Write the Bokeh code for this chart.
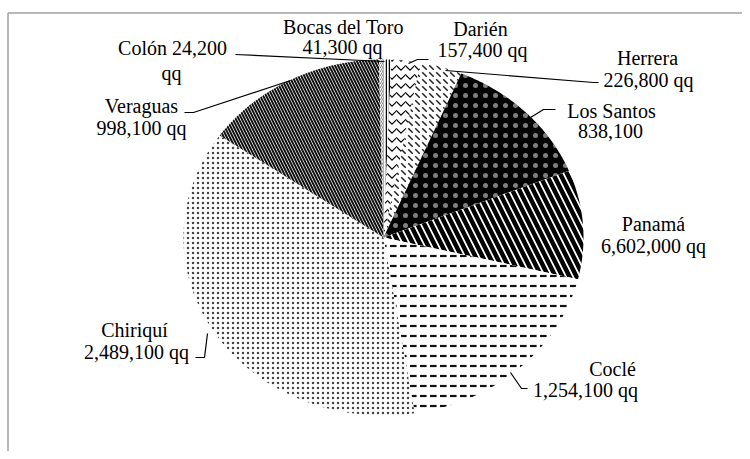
import numpy as np
from bokeh.plotting import figure
from bokeh.models import Range1d
from bokeh.core.properties import value
from bokeh.embed import file_html
from bokeh.resources import INLINE

# ---- data (clockwise from 12 o'clock) ----
regions = ["Bocas del Toro", "Darién", "Herrera", "Los Santos", "Panamá",
           "Coclé", "Chiriquí", "Veraguas", "Colón"]
production_qq = [41300, 157400, 226800, 838100, 660200, 1254100, 2489100, 998100, 24200]
label_line1 = ["Bocas del Toro", "Darién", "Herrera", "Los Santos", "Panamá",
               "Coclé", "Chiriquí", "Veraguas", "Colón 24,200"]
label_line2 = ["41,300 qq", "157,400 qq", "226,800 qq", "838,100", "6,602,000 qq",
               "1,254,100 qq", "2,489,100 qq", "998,100 qq", "qq"]

# ---- styles ----
fill_colors = ["white", "white", "white", "black", "white", "white", "white", "white", "white"]
hatch_patterns = ["vertical_line", "horizontal_wave", "left_diagonal_dash", "dot",
                  "left_diagonal_line", "horizontal_dash", "dot", "left_diagonal_line",
                  "right_diagonal_line"]
hatch_colors = ["black", "black", "#222222", "white", "black", "#111111", "#444444", "#111111", "#888888"]
hatch_alphas = [1, 1, 1, 0.5, 1, 1, 1, 1, 1]
hatch_scales = [3, 9, 7, 10, 14, 10, 5, 6, 4]
hatch_weights = [1.5, 1.2, 1.5, 1.0, 4.5, 2.2, 1.8, 2.0, 1]

# label positions (picture pixels) : line1 centre, line2 centre
lab_pos = [((343, 26), (342, 46)),
           ((480, 28), (482, 49)),
           ((647, 57), (648, 79)),
           ((611, 110), (610, 130)),
           ((653, 223), (653, 245)),
           ((612, 368), (585, 389)),
           ((134, 329), (136, 351)),
           ((141, 105), (141, 127)),
           ((172, 47), (171, 72))]

leaders = [None,
           [(408, 63), (417, 59), (428, 59)],
           [(445, 70), (593, 82), (598, 82)],
           [(530, 117), (543, 109), (555, 109)],
           None,
           [(510, 372), (521, 388), (527, 388)],
           [(207, 333), (204, 357), (195, 357)],
           [(290, 80), (193, 112), (184, 112)],
           [(384, 61), (235, 54)]]

W, H = 742, 451
p = figure(width=W, height=H, output_backend="svg", toolbar_location=None,
           x_range=Range1d(0, W), y_range=Range1d(H, 0),
           x_axis_type=None, y_axis_type=None, min_border=0)
p.outline_line_color = None
p.xgrid.visible = False
p.ygrid.visible = False
p.background_fill_color = "white"
p.border_fill_color = "white"

# chart frame (grey), only top and left edges visible in the crop
p.line([7.5, W], [12.5, 12.5], line_color="#a0a0a0", line_width=1.5)
p.line([7.5, 7.5], [12.5, H], line_color="#a0a0a0", line_width=1.5)

cx, cy, rx, ry = 383, 237, 200, 178
vals = np.array(production_qq, dtype=float)
cum = np.concatenate([[0], np.cumsum(vals)]) / vals.sum()
for i in range(len(vals)):
    t0, t1 = 2 * np.pi * cum[i], 2 * np.pi * cum[i + 1]
    n = max(4, int((t1 - t0) / 0.01))
    t = np.linspace(t0, t1, n)
    xs = np.concatenate([[cx], cx + rx * np.sin(t), [cx]])
    ys = np.concatenate([[cy], cy - ry * np.cos(t), [cy]])
    p.patch(xs, ys, fill_color=fill_colors[i], line_color=None,
            hatch_pattern=hatch_patterns[i], hatch_color=hatch_colors[i],
            hatch_alpha=hatch_alphas[i],
            hatch_scale=hatch_scales[i], hatch_weight=hatch_weights[i])

for ld in leaders:
    if ld:
        p.line([a for a, b in ld], [b for a, b in ld], line_color="black", line_width=1.2)

font = value("Liberation Serif, Times New Roman, serif")
for (l1, l2), a, b in zip(lab_pos, label_line1, label_line2):
    p.text(x=[l1[0], l2[0]], y=[l1[1], l2[1]], text=[a, b],
           text_font=font, text_font_size="20px",
           text_align="center", text_baseline="middle", text_color="black")

open("out.html", "w").write(file_html(p, INLINE))
